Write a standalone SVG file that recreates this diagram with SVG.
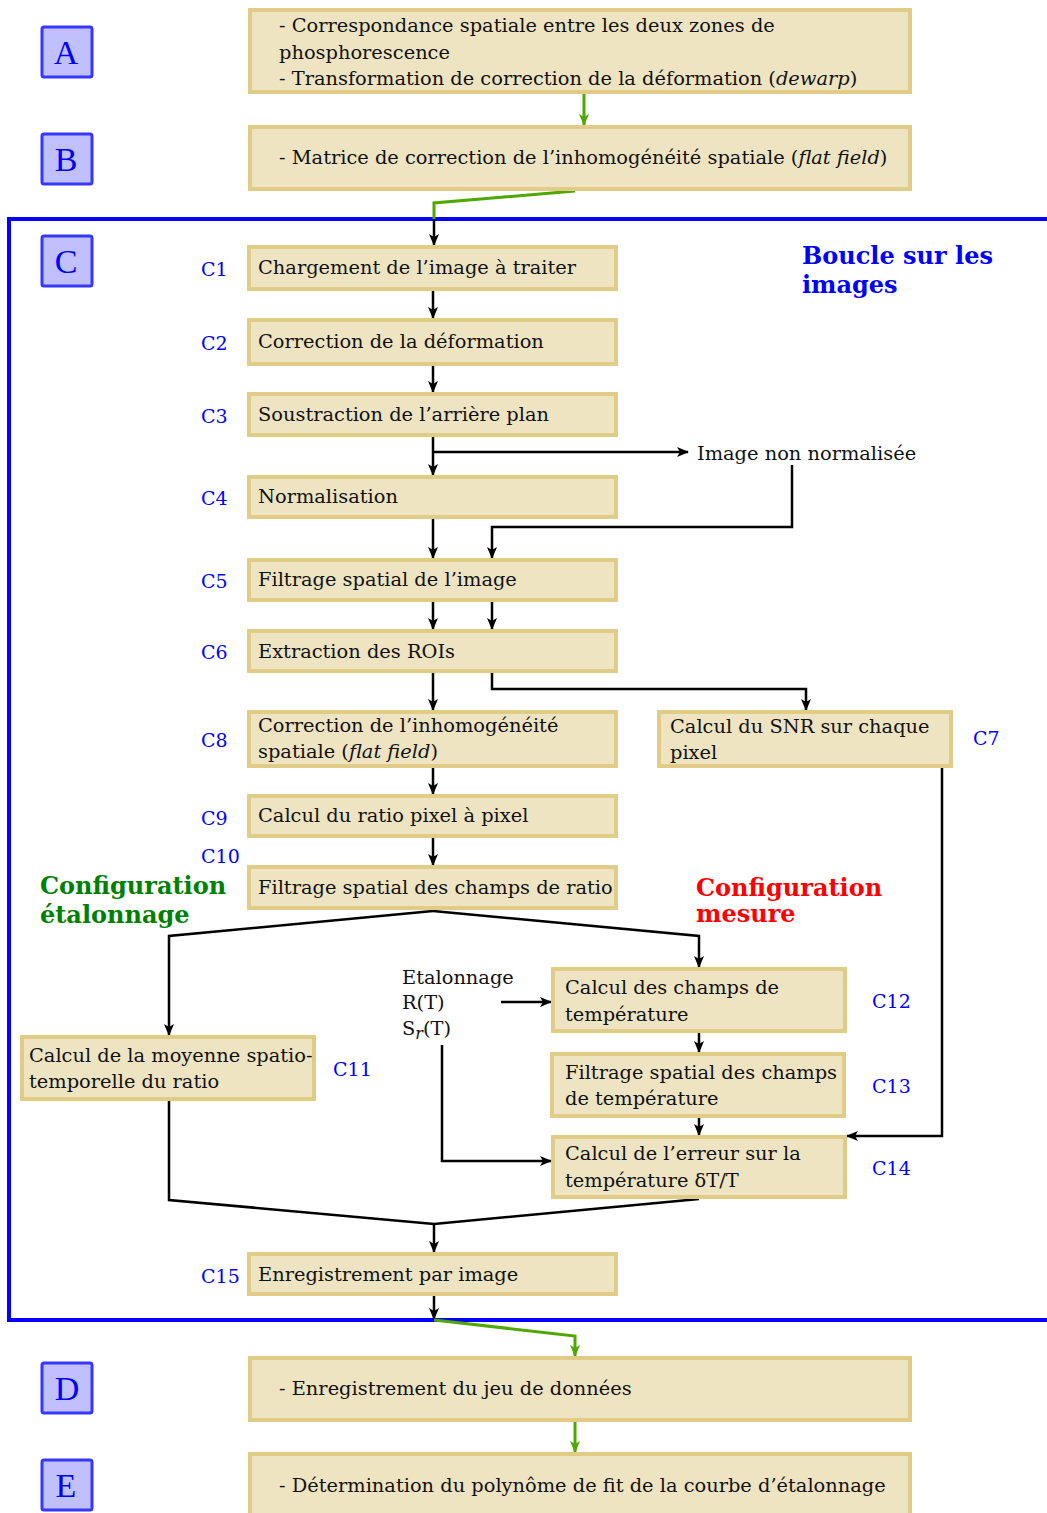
<svg xmlns="http://www.w3.org/2000/svg" width="1047" height="1513" viewBox="0 0 1047 1513">
<defs>
<style>
.box{fill:#EEE4C1;stroke:#E0CC86;stroke-width:4}
.lab{fill:#C0C0FF;stroke:#3636FF;stroke-width:3}
.labt{font-family:"Liberation Serif",serif;font-size:34px;fill:#0000FF;text-anchor:middle}
.t{font-family:"DejaVu Serif",serif;font-size:19.4px;fill:#111}
.c{font-family:"DejaVu Serif",serif;font-size:19px;fill:#0000FF}
.big{font-family:"DejaVu Serif",serif;font-size:24px;font-weight:bold}
.ln{fill:none;stroke:#000;stroke-width:2.5}
.gr{fill:none;stroke:#4EA800;stroke-width:3}
</style>
<marker id="ah" viewBox="0 0 12 10" refX="11" refY="5" markerWidth="12" markerHeight="10" markerUnits="userSpaceOnUse" orient="auto">
<path d="M0,0 L12,5 L0,10 L3,5 z" fill="#000"/>
</marker>
<marker id="ag" viewBox="0 0 12 10" refX="11" refY="5" markerWidth="14" markerHeight="10" markerUnits="userSpaceOnUse" orient="auto">
<path d="M0,0 L12,5 L0,10 L3,5 z" fill="#4EA800"/>
</marker>
</defs>
<rect width="1047" height="1513" fill="#fff"/>

<!-- Loop frame -->
<path d="M1047,219 H9 V1320 H1047" fill="none" stroke="#0000FF" stroke-width="4"/>

<g id="connectors">
<path class="gr" d="M584,93 V125" marker-end="url(#ag)"/>
<path class="gr" d="M575,191 L434,203 V219"/>
<path class="ln" d="M434,219 V245" marker-end="url(#ah)"/>
<path class="ln" d="M433,291 V318" marker-end="url(#ah)"/>
<path class="ln" d="M433,366 V392" marker-end="url(#ah)"/>
<path class="ln" d="M433,437 V475" marker-end="url(#ah)"/>
<path class="ln" d="M433,452 H688" marker-end="url(#ah)"/>
<path class="ln" d="M792,465 V527 H492 V558" marker-end="url(#ah)"/>
<path class="ln" d="M433,519 V558" marker-end="url(#ah)"/>
<path class="ln" d="M433,602 V629" marker-end="url(#ah)"/>
<path class="ln" d="M492,602 V629" marker-end="url(#ah)"/>
<path class="ln" d="M433,673 V710" marker-end="url(#ah)"/>
<path class="ln" d="M492,673 V689 H806 V710" marker-end="url(#ah)"/>
<path class="ln" d="M433,768 V794" marker-end="url(#ah)"/>
<path class="ln" d="M433,838 V865" marker-end="url(#ah)"/>
<path class="ln" d="M433,911 L169,936 V1035" marker-end="url(#ah)"/>
<path class="ln" d="M433,911 L699,936 V967" marker-end="url(#ah)"/>
<path class="ln" d="M699,1033 V1052" marker-end="url(#ah)"/>
<path class="ln" d="M699,1118 V1135" marker-end="url(#ah)"/>
<path class="ln" d="M942,768 V1136 H847" marker-end="url(#ah)"/>
<path class="ln" d="M501,1002 H551" marker-end="url(#ah)"/>
<path class="ln" d="M442,1045 V1161 H551" marker-end="url(#ah)"/>
<path class="ln" d="M169,1101 V1200 L434,1224 L699,1199"/>
<path class="ln" d="M434,1224 V1252" marker-end="url(#ah)"/>
<path class="ln" d="M434,1296 V1319" marker-end="url(#ah)"/>
<path class="gr" d="M434,1320 L575,1336 V1356" marker-end="url(#ag)"/>
<path class="gr" d="M575,1422 V1452" marker-end="url(#ag)"/>
</g>

<!-- Stage labels -->
<g id="labA"><rect class="lab" x="42" y="27" width="50" height="50" rx="2"/><text class="labt" x="66" y="64">A</text></g>
<g id="labB"><rect class="lab" x="42" y="134" width="50" height="50" rx="2"/><text class="labt" x="66" y="171">B</text></g>
<g id="labC"><rect class="lab" x="42" y="236" width="50" height="50" rx="2"/><text class="labt" x="66" y="273">C</text></g>
<g id="labD"><rect class="lab" x="42" y="1363" width="50" height="50" rx="2"/><text class="labt" x="67" y="1400">D</text></g>
<g id="labE"><rect class="lab" x="42" y="1460" width="50" height="50" rx="2"/><text class="labt" x="66" y="1497">E</text></g>

<g id="nodeA"><rect class="box" x="250" y="10" width="660" height="82"/>
<text class="t" x="279" y="32">- Correspondance spatiale entre les deux zones de</text>
<text class="t" x="279" y="59">phosphorescence</text>
<text class="t" x="279" y="85">- Transformation de correction de la déformation (<tspan font-style="italic">dewarp</tspan>)</text></g>
<g id="nodeB"><rect class="box" x="250" y="127" width="660" height="62"/>
<text class="t" x="279" y="164">- Matrice de correction de l’inhomogénéité spatiale (<tspan font-style="italic">flat field</tspan>)</text></g>

<g id="nodeC1"><rect class="box" x="249" y="247" width="367" height="42"/><text class="t" x="258" y="274">Chargement de l’image à traiter</text><text class="c" x="201" y="276">C1</text></g>
<g id="nodeC2"><rect class="box" x="249" y="320" width="367" height="44"/><text class="t" x="258" y="348">Correction de la déformation</text><text class="c" x="201" y="350">C2</text></g>
<g id="nodeC3"><rect class="box" x="249" y="394" width="367" height="41"/><text class="t" x="258" y="421">Soustraction de l’arrière plan</text><text class="c" x="201" y="423">C3</text></g>
<g id="nodeC4"><rect class="box" x="249" y="477" width="367" height="40"/><text class="t" x="258" y="503">Normalisation</text><text class="c" x="201" y="505">C4</text></g>
<g id="nodeC5"><rect class="box" x="249" y="560" width="367" height="40"/><text class="t" x="258" y="586">Filtrage spatial de l’image</text><text class="c" x="201" y="588">C5</text></g>
<g id="nodeC6"><rect class="box" x="249" y="631" width="367" height="40"/><text class="t" x="258" y="658">Extraction des ROIs</text><text class="c" x="201" y="659">C6</text></g>
<g id="nodeC7"><rect class="box" x="659" y="712" width="292" height="54"/><text class="t" x="670" y="733">Calcul du SNR sur chaque</text><text class="t" x="670" y="759">pixel</text><text class="c" x="973" y="745">C7</text></g>
<g id="nodeC8"><rect class="box" x="249" y="712" width="367" height="54"/><text class="t" x="258" y="732">Correction de l’inhomogénéité</text><text class="t" x="258" y="758">spatiale (<tspan font-style="italic">flat field</tspan>)</text><text class="c" x="201" y="747">C8</text></g>
<g id="nodeC9"><rect class="box" x="249" y="796" width="367" height="40"/><text class="t" x="258" y="822">Calcul du ratio pixel à pixel</text><text class="c" x="201" y="825">C9</text></g>
<g id="nodeC10"><rect class="box" x="249" y="867" width="367" height="41"/><text class="t" x="258" y="894">Filtrage spatial des champs de ratio</text><text class="c" x="201" y="863">C10</text></g>
<g id="nodeC11"><rect class="box" x="22" y="1037" width="292" height="62"/><text class="t" x="29" y="1062">Calcul de la moyenne spatio-</text><text class="t" x="29" y="1088">temporelle du ratio</text><text class="c" x="333" y="1076">C11</text></g>
<g id="nodeC12"><rect class="box" x="553" y="969" width="292" height="62"/><text class="t" x="565" y="994">Calcul des champs de</text><text class="t" x="565" y="1021">température</text><text class="c" x="872" y="1008">C12</text></g>
<g id="nodeC13"><rect class="box" x="552" y="1054" width="292" height="62"/><text class="t" x="565" y="1079">Filtrage spatial des champs</text><text class="t" x="565" y="1105">de température</text><text class="c" x="872" y="1093">C13</text></g>
<g id="nodeC14"><rect class="box" x="553" y="1137" width="292" height="60"/><text class="t" x="565" y="1160">Calcul de l’erreur sur la</text><text class="t" x="565" y="1187">température δT/T</text><text class="c" x="872" y="1175">C14</text></g>
<g id="nodeC15"><rect class="box" x="249" y="1254" width="367" height="40"/><text class="t" x="258" y="1281">Enregistrement par image</text><text class="c" x="201" y="1283">C15</text></g>

<g id="nodeD"><rect class="box" x="250" y="1358" width="660" height="62"/><text class="t" x="279" y="1395">- Enregistrement du jeu de données</text></g>
<g id="nodeE"><rect class="box" x="250" y="1454" width="660" height="62"/><text class="t" x="279" y="1492">- Détermination du polynôme de fit de la courbe d’étalonnage</text></g>

<g id="notes">
<text class="t" x="697" y="460">Image non normalisée</text>
<text class="t" x="402" y="984">Etalonnage</text>
<text class="t" x="402" y="1009">R(T)</text>
<text class="t" x="402" y="1035">S<tspan font-style="italic" font-size="16" dy="4">r</tspan><tspan dy="-4">(T)</tspan></text>
<text class="big" x="802" y="264" fill="#0000FF">Boucle sur les</text>
<text class="big" x="802" y="293" fill="#0000FF">images</text>
<text class="big" x="40" y="894" fill="#008000">Configuration</text>
<text class="big" x="40" y="923" fill="#008000">étalonnage</text>
<text class="big" x="696" y="896" fill="#FF0000">Configuration</text>
<text class="big" x="696" y="922" fill="#FF0000">mesure</text>
</g>
</svg>
